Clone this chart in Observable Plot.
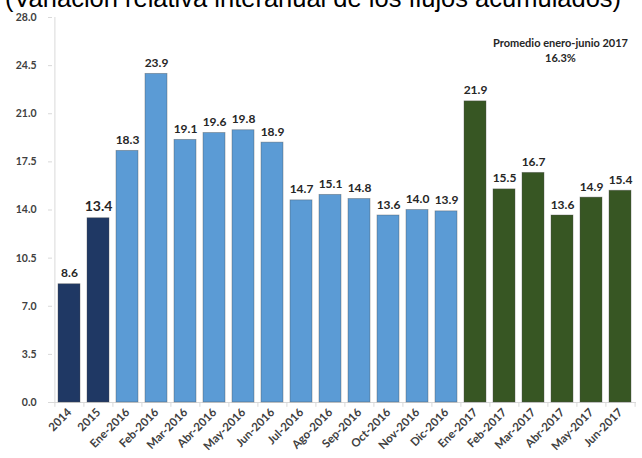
<!DOCTYPE html>
<html>
<head>
<meta charset="utf-8">
<script src="https://cdn.jsdelivr.net/npm/d3@7"></script>
<script src="https://cdn.jsdelivr.net/npm/@observablehq/plot@0.6"></script>
<style>
  html, body { margin: 0; padding: 0; background: #fff; overflow: hidden; }
  #wrap { position: relative; width: 642px; height: 458px; overflow: hidden; }
  #title { position: absolute; top: -14px; left: 5px; z-index: 2; font-family: "Liberation Sans", Arial, sans-serif; font-size: 25.5px; line-height: 1; white-space: nowrap; color: #000; }
</style>
</head>
<body>
<div id="wrap">
  <div id="title">(Variación relativa interanual de los flujos acumulados)</div>
</div>
<script>
const categories = ["2014","2015","Ene-2016","Feb-2016","Mar-2016","Abr-2016","May-2016","Jun-2016","Jul-2016","Ago-2016","Sep-2016","Oct-2016","Nov-2016","Dic-2016","Ene-2017","Feb-2017","Mar-2017","Abr-2017","May-2017","Jun-2017"];
const values = [8.6, 13.4, 18.3, 23.9, 19.1, 19.6, 19.8, 18.9, 14.7, 15.1, 14.8, 13.6, 14.0, 13.9, 21.9, 15.5, 16.7, 13.6, 14.9, 15.4];
const periods = ["Anual","Anual","2016","2016","2016","2016","2016","2016","2016","2016","2016","2016","2016","2016","2017","2017","2017","2017","2017","2017"];
const periodDomain = ["Anual","2016","2017"];
const periodColors = ["#1f3864","#5b9bd5","#375623"];
const yTicks = [0, 3.5, 7, 10.5, 14, 17.5, 21, 24.5, 28];
const annotation = "Promedio enero-junio 2017\n16.3%";
const highlighted = ["2015"];

const data = categories.map((c, i) => ({cat: c, value: values[i], period: periods[i]}));

const W = 642, H = 458, mL = 52, mR = 6, mT = 17, mB = 56;
const step = (W - mL - mR) / categories.length;
const font = "Lato, 'Open Sans', sans-serif";
const grey = "#d9d9d9";

const chart = Plot.plot({
  width: W, height: H,
  marginLeft: mL, marginRight: mR, marginTop: mT, marginBottom: mB,
  style: {fontFamily: font, background: "transparent"},
  x: {domain: categories, paddingInner: 0.25, paddingOuter: 0.125},
  y: {domain: [0, 28]},
  color: {domain: periodDomain, range: periodColors},
  marks: [
    Plot.ruleY([0], {stroke: grey, strokeWidth: 1}),
    Plot.ruleX([categories[0]], {x: d => d, y1: 0, y2: 28, dx: -step / 2, stroke: grey}),
    Plot.ruleX(categories, {x: d => d, y1: 0, y2: -0.35, dx: -step / 2, stroke: grey}),
    Plot.ruleX([categories[categories.length - 1]], {x: d => d, y1: 0, y2: -0.35, dx: step / 2, stroke: grey}),
    Plot.barY(data, {x: "cat", y: "value", fill: "period", stroke: "#4a4a4a", strokeOpacity: 0.45, strokeWidth: 0.8}),
    Plot.text(data.filter(d => !highlighted.includes(d.cat)), {x: "cat", y: "value", text: d => d3.format(".1f")(d.value), lineAnchor: "bottom", dy: -7, fontWeight: "bold", fontSize: 12, fill: "#262626"}),
    Plot.text(data.filter(d => highlighted.includes(d.cat)), {x: "cat", y: "value", text: d => d3.format(".1f")(d.value), lineAnchor: "bottom", dy: -7, fontWeight: "bold", fontSize: 14, fill: "#262626"}),
    Plot.text([annotation], {frameAnchor: "top-right", text: d => d, textAnchor: "middle", lineAnchor: "top", dx: -76, dy: 19, fontWeight: "bold", fontSize: 11, lineHeight: 1.35, fill: "#262626"}),
    Plot.axisY({ticks: yTicks, tickFormat: d3.format(".1f"), tickSize: 4, tickPadding: 12, stroke: grey, fill: "#404040", fontWeight: "bold", fontSize: 10.5, label: null}),
    Plot.axisX({tickSize: 0, tickPadding: 8, tickRotate: -45, fill: "#404040", fontWeight: "bold", fontSize: 11.5, label: null})
  ]
});
document.getElementById("wrap").appendChild(chart);
</script>
</body>
</html>
